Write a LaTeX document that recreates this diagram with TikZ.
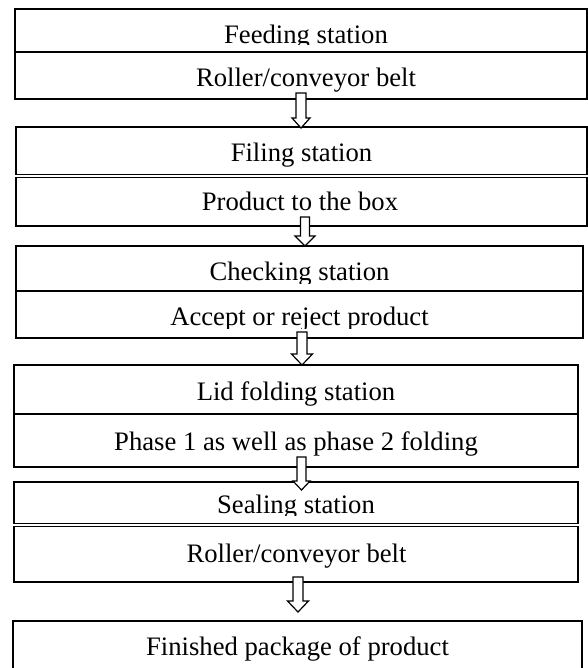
\documentclass[tikz,border=0pt]{standalone}
\usepackage{fontspec}
\setmainfont{Liberation Serif}
\usetikzlibrary{calc}

% hollow block arrow: centre x, top y, head start y, tip y, shaft half width, head half width
\newcommand{\blkarrow}[6]{%
  \draw[hollowarrow] (#1-#5,#2) -- (#1+#5,#2) -- (#1+#5,#3) -- (#1+#6,#3)
    -- (#1,#4) -- (#1-#6,#3) -- (#1-#5,#3) -- cycle;}

\begin{document}
\begin{tikzpicture}[x=0.75pt, y=-0.75pt,
  box/.style={draw=black, line width=1pt, inner sep=0pt, outer sep=0pt,
    anchor=north west, fill=white},
  lbl/.style={anchor=base, inner sep=0pt, font=\fontsize{20}{24}\selectfont},
  hollowarrow/.style={draw=black, line width=0.9pt, fill=white, line join=miter}]

\useasboundingbox[fill=white] (0,0) rectangle (588,668);

% station boxes
\node[box, minimum width=572*0.75pt, minimum height=43*0.75pt] (feed)  at (15,9)   {};
\node[box, minimum width=572*0.75pt, minimum height=47*0.75pt] (roll1) at (15,52)  {};
\node[box, minimum width=571*0.75pt, minimum height=47.5*0.75pt] (fill)  at (16,127) {};
\node[box, minimum width=571*0.75pt, minimum height=48.5*0.75pt] (prod)  at (16,177.5) {};
\node[box, minimum width=567*0.75pt, minimum height=45*0.75pt] (check) at (16,246) {};
\node[box, minimum width=567*0.75pt, minimum height=47*0.75pt] (acc)   at (16,291) {};
\node[box, minimum width=564*0.75pt, minimum height=49*0.75pt] (lid)   at (14,365) {};
\node[box, minimum width=564*0.75pt, minimum height=53*0.75pt] (phase) at (14,414) {};
\node[box, minimum width=564*0.75pt, minimum height=41.5*0.75pt] (seal)  at (14,482) {};
\node[box, minimum width=564*0.75pt, minimum height=55.5*0.75pt] (roll2) at (14,526.5) {};
\node[box, minimum width=569*0.75pt, minimum height=49*0.75pt] (fin)   at (13,621) {};

% labels (some are cut off by the text area of their box)
\begin{scope}
  \clip (15,9) rectangle (587,44.5);
  \node[lbl] (feedT) at (306,43.5) {Feeding station};
\end{scope}
\node[lbl] (roll1T) at (306,86.5) {Roller/conveyor belt};
\node[lbl] (fillT)  at (301.5,161.5) {Filing station};
\node[lbl] (prodT)  at (300,210) {Product to the box};
\begin{scope}
  \clip (16,246) rectangle (583,283);
  \node[lbl] (checkT) at (299.5,280) {Checking station};
\end{scope}
\begin{scope}
  \clip (16,291) rectangle (583,328.3);
  \node[lbl] (accT) at (299.5,325) {Accept or reject product};
\end{scope}
\node[lbl] (lidT)   at (296,400) {Lid folding station};
\node[lbl] (phaseT) at (296,450) {Phase 1 as well as phase 2 folding};
\begin{scope}
  \clip (14,482) rectangle (578,515.5);
  \node[lbl] (sealT) at (296,513) {Sealing station};
\end{scope}
\node[lbl] (roll2T) at (296.5,562) {Roller/conveyor belt};
\node[lbl] (finT)   at (297.5,655) {Finished package of product};

% block arrows between the stations
\blkarrow{301}{93}{118}{128}{5}{9}
\blkarrow{305}{217}{236}{246}{4.5}{10}
\blkarrow{302}{332}{354}{365}{5}{10.5}
\blkarrow{301.5}{457}{481}{490}{4.5}{8.5}
\blkarrow{298}{577}{601}{612}{5}{10.5}

\end{tikzpicture}
\end{document}
